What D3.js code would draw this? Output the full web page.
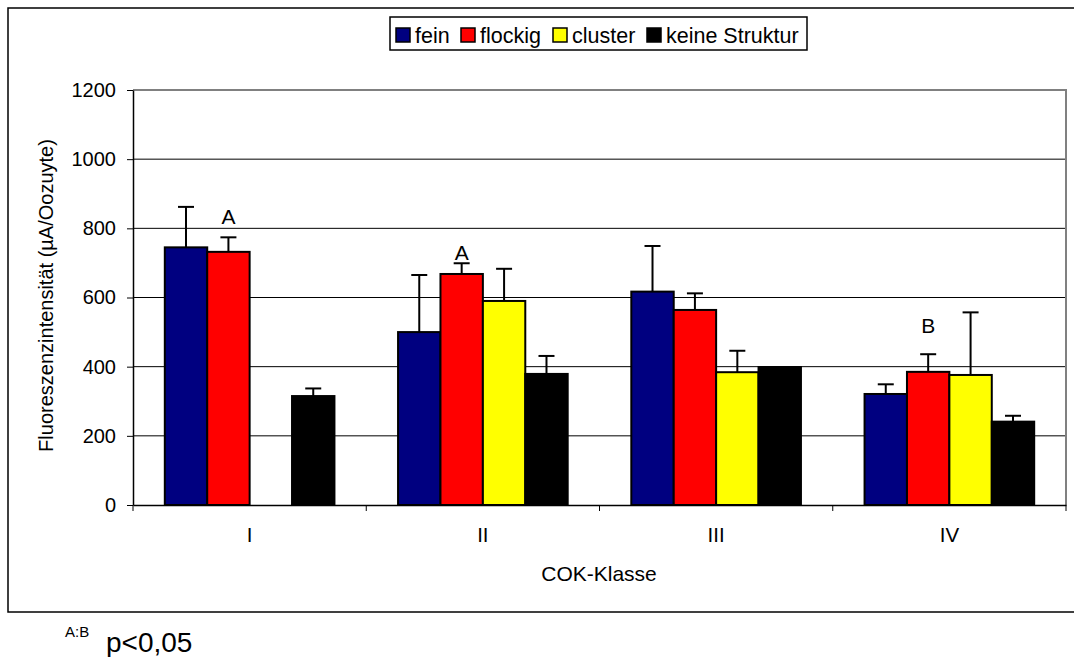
<!DOCTYPE html>
<html>
<head>
<meta charset="utf-8">
<script src="https://cdn.jsdelivr.net/npm/d3@7/dist/d3.min.js"></script>
<style>
  html, body { margin: 0; padding: 0; background: #fff; }
  svg { display: block; font-family: "Liberation Sans", Arial, sans-serif; }
</style>
</head>
<body>
<svg id="chart" width="1074" height="657"></svg>
<script>
// COK classes on the x axis
const categories = ["I", "II", "III", "IV"];
const seriesNames = ["fein", "flockig", "cluster", "keine Struktur"];
const seriesColors = ["#000080", "#ff0000", "#ffff00", "#000000"];

// Mean fluorescence intensity per structure type (null = no value)
const fein = [745, 500, 617, 321];
const flockig = [732, 668, 564, 385];
const cluster = [null, 590, 384, 376];
const keineStruktur = [315, 379, 399, 241];

// Upper error bar lengths
const feinErr = [117, 165, 132, 28];
const flockigErr = [42, 31, 48, 51];
const clusterErr = [null, 93, 62, 181];
const keineStrukturErr = [22, 52, null, 17];

// Significance letters (placed above the "flockig" bars)
const sigCategories = ["I", "II", "IV"];
const sigLetters = ["A", "A", "B"];
const sigY = [834, 730, 520];

const yTicks = [0, 200, 400, 600, 800, 1000, 1200];

const seriesValues = [fein, flockig, cluster, keineStruktur];
const seriesErrs = [feinErr, flockigErr, clusterErr, keineStrukturErr];

const svg = d3.select("#chart");

const plot = { left: 133, right: 1066, top: 90, bottom: 505 };

const x = d3.scaleBand().domain(categories).range([plot.left, plot.right]).paddingInner(0).paddingOuter(0);
const y = d3.scaleLinear().domain([0, 1200]).range([plot.bottom, plot.top]);

// bar layout inside a category: 4 bars, 150% gap
const barW = x.bandwidth() / 5.5;
const barX = (cat, s) => x(cat) + 0.75 * barW + s * barW;

// outer chart frame
svg.append("rect")
  .attr("x", 8).attr("y", 8).attr("width", 1080).attr("height", 604)
  .attr("fill", "#fff").attr("stroke", "#000").attr("stroke-width", 1.5);

// gridlines
svg.append("g")
  .selectAll("line")
  .data(yTicks.filter(d => d > 0 && d < 1200))
  .join("line")
  .attr("x1", plot.left).attr("x2", plot.right)
  .attr("y1", d => y(d)).attr("y2", d => y(d))
  .attr("stroke", "#000").attr("stroke-width", 1);

// plot area border (top and right)
svg.append("path")
  .attr("d", `M${plot.left},${y(1200)}H${plot.right}V${plot.bottom}`)
  .attr("fill", "none").attr("stroke", "#808080").attr("stroke-width", 2);

// bars
const bars = [];
seriesValues.forEach((vals, s) => {
  vals.forEach((v, i) => {
    if (v != null) bars.push({ s, cat: categories[i], v, err: seriesErrs[s][i] });
  });
});

// error bars (drawn first so bar tops sit over the stem)
const eb = svg.append("g").attr("stroke", "#000").attr("stroke-width", 2).attr("fill", "none");
bars.filter(d => d.err != null).forEach(d => {
  const cx = barX(d.cat, d.s) + barW / 2;
  eb.append("line").attr("x1", cx).attr("x2", cx).attr("y1", y(d.v)).attr("y2", y(d.v + d.err));
  eb.append("line").attr("x1", cx - 8).attr("x2", cx + 8).attr("y1", y(d.v + d.err)).attr("y2", y(d.v + d.err));
});

svg.append("g")
  .selectAll("rect")
  .data(bars)
  .join("rect")
  .attr("x", d => barX(d.cat, d.s))
  .attr("y", d => y(d.v))
  .attr("width", barW)
  .attr("height", d => y(0) - y(d.v))
  .attr("fill", d => seriesColors[d.s])
  .attr("stroke", "#000").attr("stroke-width", 2);

// significance letters
svg.append("g")
  .selectAll("text")
  .data(sigLetters.map((t, i) => ({ t, cat: sigCategories[i], v: sigY[i] })))
  .join("text")
  .attr("x", d => barX(d.cat, 1) + barW / 2)
  .attr("y", d => y(d.v))
  .attr("dy", "0.36em")
  .attr("text-anchor", "middle")
  .attr("font-size", 21)
  .text(d => d.t);

// y axis
const yAxis = svg.append("g")
  .attr("transform", `translate(${plot.left},0)`)
  .call(d3.axisLeft(y).tickValues(yTicks).tickFormat(d3.format("d"))
    .tickSize(6).tickPadding(11).tickSizeOuter(0));
yAxis.select(".domain").attr("stroke", "#000").attr("stroke-width", 1.5);
yAxis.selectAll(".tick line").attr("stroke", "#000");
yAxis.selectAll(".tick text").attr("font-size", 20).attr("fill", "#000")
  .attr("font-family", "Liberation Sans, Arial, sans-serif");

// x axis: labels at category centres, ticks at category boundaries
const xAxis = svg.append("g")
  .attr("transform", `translate(0,${plot.bottom})`)
  .call(d3.axisBottom(x).tickSize(0).tickPadding(22).tickSizeOuter(0));
xAxis.select(".domain").attr("stroke", "#000").attr("stroke-width", 1.5);
xAxis.selectAll(".tick text").attr("font-size", 20.5).attr("fill", "#000")
  .attr("font-family", "Liberation Sans, Arial, sans-serif");
const boundaries = categories.map(c => x(c)).concat([x.range()[1]]);
xAxis.selectAll(".bound")
  .data(boundaries)
  .join("line")
  .attr("class", "bound")
  .attr("x1", d => d).attr("x2", d => d)
  .attr("y1", 0).attr("y2", 6)
  .attr("stroke", "#000").attr("stroke-width", 1);

// axis titles
svg.append("text")
  .attr("transform", `translate(53,${(plot.top + plot.bottom) / 2 - 2}) rotate(-90)`)
  .attr("text-anchor", "middle")
  .attr("font-size", 20)
  .text("Fluoreszenzintensität (µA/Oozuyte)");

svg.append("text")
  .attr("x", 599)
  .attr("y", 581)
  .attr("text-anchor", "middle")
  .attr("font-size", 21)
  .text("COK-Klasse");

// legend
const legend = svg.append("g");
legend.append("rect")
  .attr("x", 390).attr("y", 17).attr("width", 417).attr("height", 33)
  .attr("fill", "#fff").attr("stroke", "#000").attr("stroke-width", 1.5);
const legendX = [396, 461, 553, 647];
seriesNames.forEach((name, i) => {
  legend.append("rect")
    .attr("x", legendX[i]).attr("y", 28).attr("width", 14).attr("height", 14)
    .attr("fill", seriesColors[i]).attr("stroke", "#000").attr("stroke-width", 1.5);
  legend.append("text")
    .attr("x", legendX[i] + 19).attr("y", 42.5)
    .attr("font-size", 21.5)
    .text(name);
});

// footnote
svg.append("text").attr("x", 65).attr("y", 637).attr("font-size", 15).text("A:B");
svg.append("text").attr("x", 106).attr("y", 652).attr("font-size", 28).text("p<0,05");
</script>
</body>
</html>
